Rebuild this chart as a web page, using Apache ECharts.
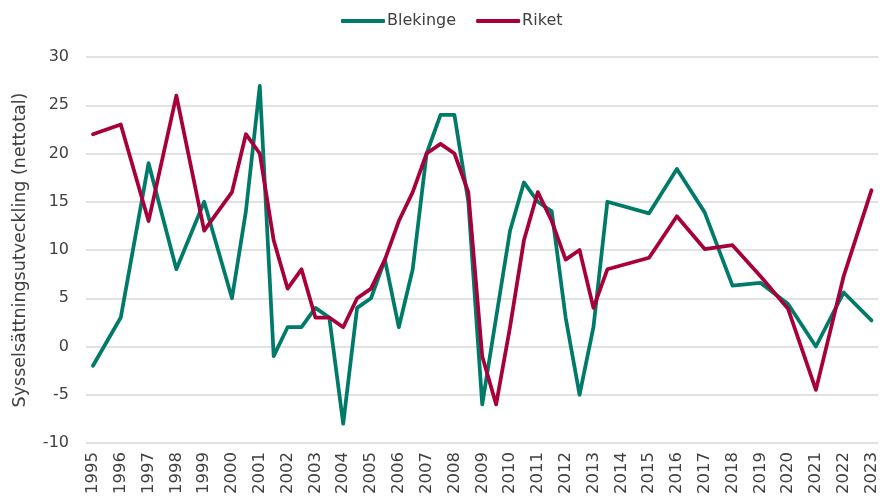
<!DOCTYPE html>
<html>
<head>
<meta charset="utf-8">
<script src="https://cdn.jsdelivr.net/npm/echarts@6/dist/echarts.min.js"></script>
<style>
html,body{margin:0;padding:0;background:#fff;}
#chart{width:880px;height:498px;}
</style>
</head>
<body>
<div id="chart"></div>
<script>
// Tick labels (whole years); data are half-yearly 2000–2013, yearly otherwise
var years = ['1995','1996','1997','1998','1999','2000','2001','2002','2003','2004','2005','2006','2007','2008','2009','2010','2011','2012','2013','2014','2015','2016','2017','2018','2019','2020','2021','2022','2023'];

// Values per half-year slot: [year H1, year H2, ...] (null = no observation)
var blekinge = [
  -2, null, 3, null, 19, null, 8, null, 15, null,
  5, 14, 27, -1, 2, 2, 4, 3, -8, 4,
  5, 9, 2, 8, 20, 24, 24, 15, -6, 3,
  12, 17, 15, 14, 3, -5, 2, 15, null, null,
  13.8, null, 18.4, null, 13.9, null, 6.3, null, 6.6, null,
  4.4, null, 0, null, 5.6, null, 2.7
];
var riket = [
  22, null, 23, null, 13, null, 26, null, 12, null,
  16, 22, 20, 11, 6, 8, 3, 3, 2, 5,
  6, 9, 13, 16, 20, 21, 20, 16, -1, -6,
  2, 11, 16, 13, 9, 10, 4, 8, null, null,
  9.2, null, 13.5, null, 10.1, null, 10.5, null, 7.3, null,
  3.9, null, -4.5, null, 7.3, null, 16.2
];

var periods = [];
years.forEach(function (y, i) {
  periods.push(y);
  if (i < years.length - 1) periods.push(y + ' H2');
});

var chart = echarts.init(document.getElementById('chart'), null, {renderer: 'canvas'});
var font = 'DejaVu Sans';
var textColor = '#404040';
chart.setOption({
  animation: false,
  color: ['#007a69', '#a7003b'],
  legend: {
    top: 8,
    left: 336,
    icon: 'roundRect',
    itemWidth: 44,
    itemHeight: 4,
    itemGap: 20,
    textStyle: {fontFamily: font, fontSize: 16, color: textColor, padding: [0, 0, 0, -3]},
    data: ['Blekinge', 'Riket']
  },
  grid: {left: 86, right: 1, top: 57, bottom: 55, containLabel: false},
  xAxis: {
    type: 'category',
    data: periods,
    boundaryGap: true,
    axisLine: {show: false},
    axisTick: {show: false},
    axisLabel: {
      interval: 1,
      rotate: 90,
      margin: 9,
      fontFamily: font,
      fontSize: 16.5,
      color: textColor
    },
    splitLine: {show: false}
  },
  yAxis: {
    type: 'value',
    min: -10,
    max: 30,
    interval: 5,
    name: 'Sysselsättningsutveckling (nettotal)',
    nameLocation: 'middle',
    nameGap: 57,
    nameTextStyle: {fontFamily: font, fontSize: 17.5, color: textColor},
    axisLine: {show: false},
    axisTick: {show: false},
    axisLabel: {margin: 17, fontFamily: font, fontSize: 16, color: textColor},
    splitLine: {lineStyle: {color: '#d9d9d9', width: 1.5}}
  },
  series: [
    {
      name: 'Blekinge', type: 'line', data: blekinge, connectNulls: true,
      symbol: 'none', lineStyle: {width: 3.75, cap: 'round', join: 'round'}
    },
    {
      name: 'Riket', type: 'line', data: riket, connectNulls: true,
      symbol: 'none', lineStyle: {width: 3.75, cap: 'round', join: 'round'}
    }
  ]
});
</script>
</body>
</html>
